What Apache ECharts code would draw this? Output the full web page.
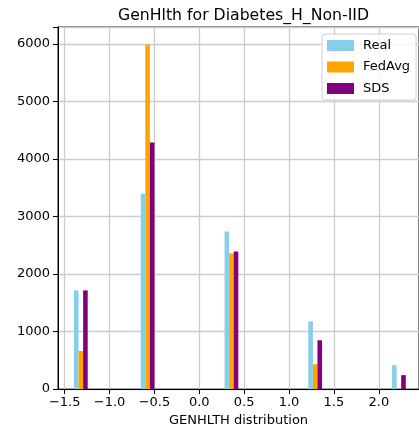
<!DOCTYPE html>
<html>
<head>
<meta charset="utf-8">
<script src="https://cdn.jsdelivr.net/npm/echarts@6/dist/echarts.min.js"></script>
<style>html,body{margin:0;padding:0;background:#fff;}#c{width:419px;height:432px;}</style>
</head>
<body>
<div id="c"></div>
<script>
// Bar centre positions (standardised GenHlth bins) and counts
const realX = [-1.371, -0.627, 0.307, 1.240, 2.173];
const fedX  = [-1.320, -0.576, 0.358, 1.291, 2.224];
const sdsX  = [-1.269, -0.525, 0.409, 1.342, 2.275];
const realY = [1716, 3397, 2738, 1178, 416];
const fedY  = [664, 5990, 2357, 433, 0];
const sdsY  = [1716, 4286, 2392, 849, 243];
const xTicks = [-1.5, -1.0, -0.5, 0.0, 0.5, 1.0, 1.5, 2.0];
const yTicks = [0, 1000, 2000, 3000, 4000, 5000, 6000];

const font = 'DejaVu Sans';
const pair = (xs, ys) => xs.map((x, i) => [x, ys[i]]);
const fmtX = v => (v < 0 ? '\u2212' : '') + Math.abs(v).toFixed(1);

const chart = echarts.init(document.getElementById('c'), null, {renderer: 'canvas'});
chart.setOption({
  animation: false,
  backgroundColor: '#fff',
  title: {
    text: 'GenHlth for Diabetes_H_Non-IID',
    left: 238.5, textAlign: 'center', top: 3,
    textStyle: {fontFamily: font, fontSize: 15.7, fontWeight: 'normal', color: '#000'}
  },
  legend: {
    orient: 'vertical', left: 322, top: 34,
    padding: [5, 6, 5, 5], itemGap: 8.5, itemWidth: 27, itemHeight: 11,
    icon: 'rect',
    backgroundColor: 'rgba(255,255,255,0.8)', borderColor: '#d0d0d0', borderWidth: 1, borderRadius: 3,
    textStyle: {fontFamily: font, fontSize: 13, color: '#000', padding: [0, 0, 0, 4]},
    data: ['Real', 'FedAvg', 'SDS']
  },
  grid: {left: 58, top: 27, width: 362, height: 363, show: true, borderColor: '#000', borderWidth: 1, backgroundColor: 'transparent'},
  xAxis: {
    type: 'value', min: -1.5744, max: 2.4478,
    name: 'GENHLTH distribution', nameLocation: 'middle', nameGap: 24,
    nameTextStyle: {fontFamily: font, fontSize: 13, color: '#000'},
    axisLine: {show: true, onZero: false, lineStyle: {color: '#000', width: 1}},
    axisTick: {show: true, length: 5, customValues: xTicks, lineStyle: {color: '#000'}},
    axisLabel: {customValues: xTicks, formatter: fmtX, margin: 7, fontFamily: font, fontSize: 13, color: '#000'},
    splitLine: {show: true, customValues: xTicks, lineStyle: {color: '#cccccc', width: 1.3}}
  },
  yAxis: {
    type: 'value', min: 0, max: 6295, interval: 1000,
    axisLine: {show: true, onZero: false, lineStyle: {color: '#000', width: 1}},
    axisTick: {show: true, length: 5, lineStyle: {color: '#000'}},
    axisLabel: {margin: 8, fontFamily: font, fontSize: 13, color: '#000', showMaxLabel: true,
      formatter: v => yTicks.includes(v) ? String(v) : ''},
    splitLine: {show: true, lineStyle: {color: '#cccccc', width: 1.3}}
  },
  series: [
    {name: 'Real', type: 'bar', data: pair(realX, realY), barWidth: 4.6, barGap: '-100%', itemStyle: {color: '#87CEEB'}},
    {name: 'FedAvg', type: 'bar', data: pair(fedX, fedY), barWidth: 4.6, barGap: '-100%', itemStyle: {color: '#FFA500'}},
    {name: 'SDS', type: 'bar', data: pair(sdsX, sdsY), barWidth: 4.6, barGap: '-100%', itemStyle: {color: '#800080'}}
  ]
});
</script>
</body>
</html>
